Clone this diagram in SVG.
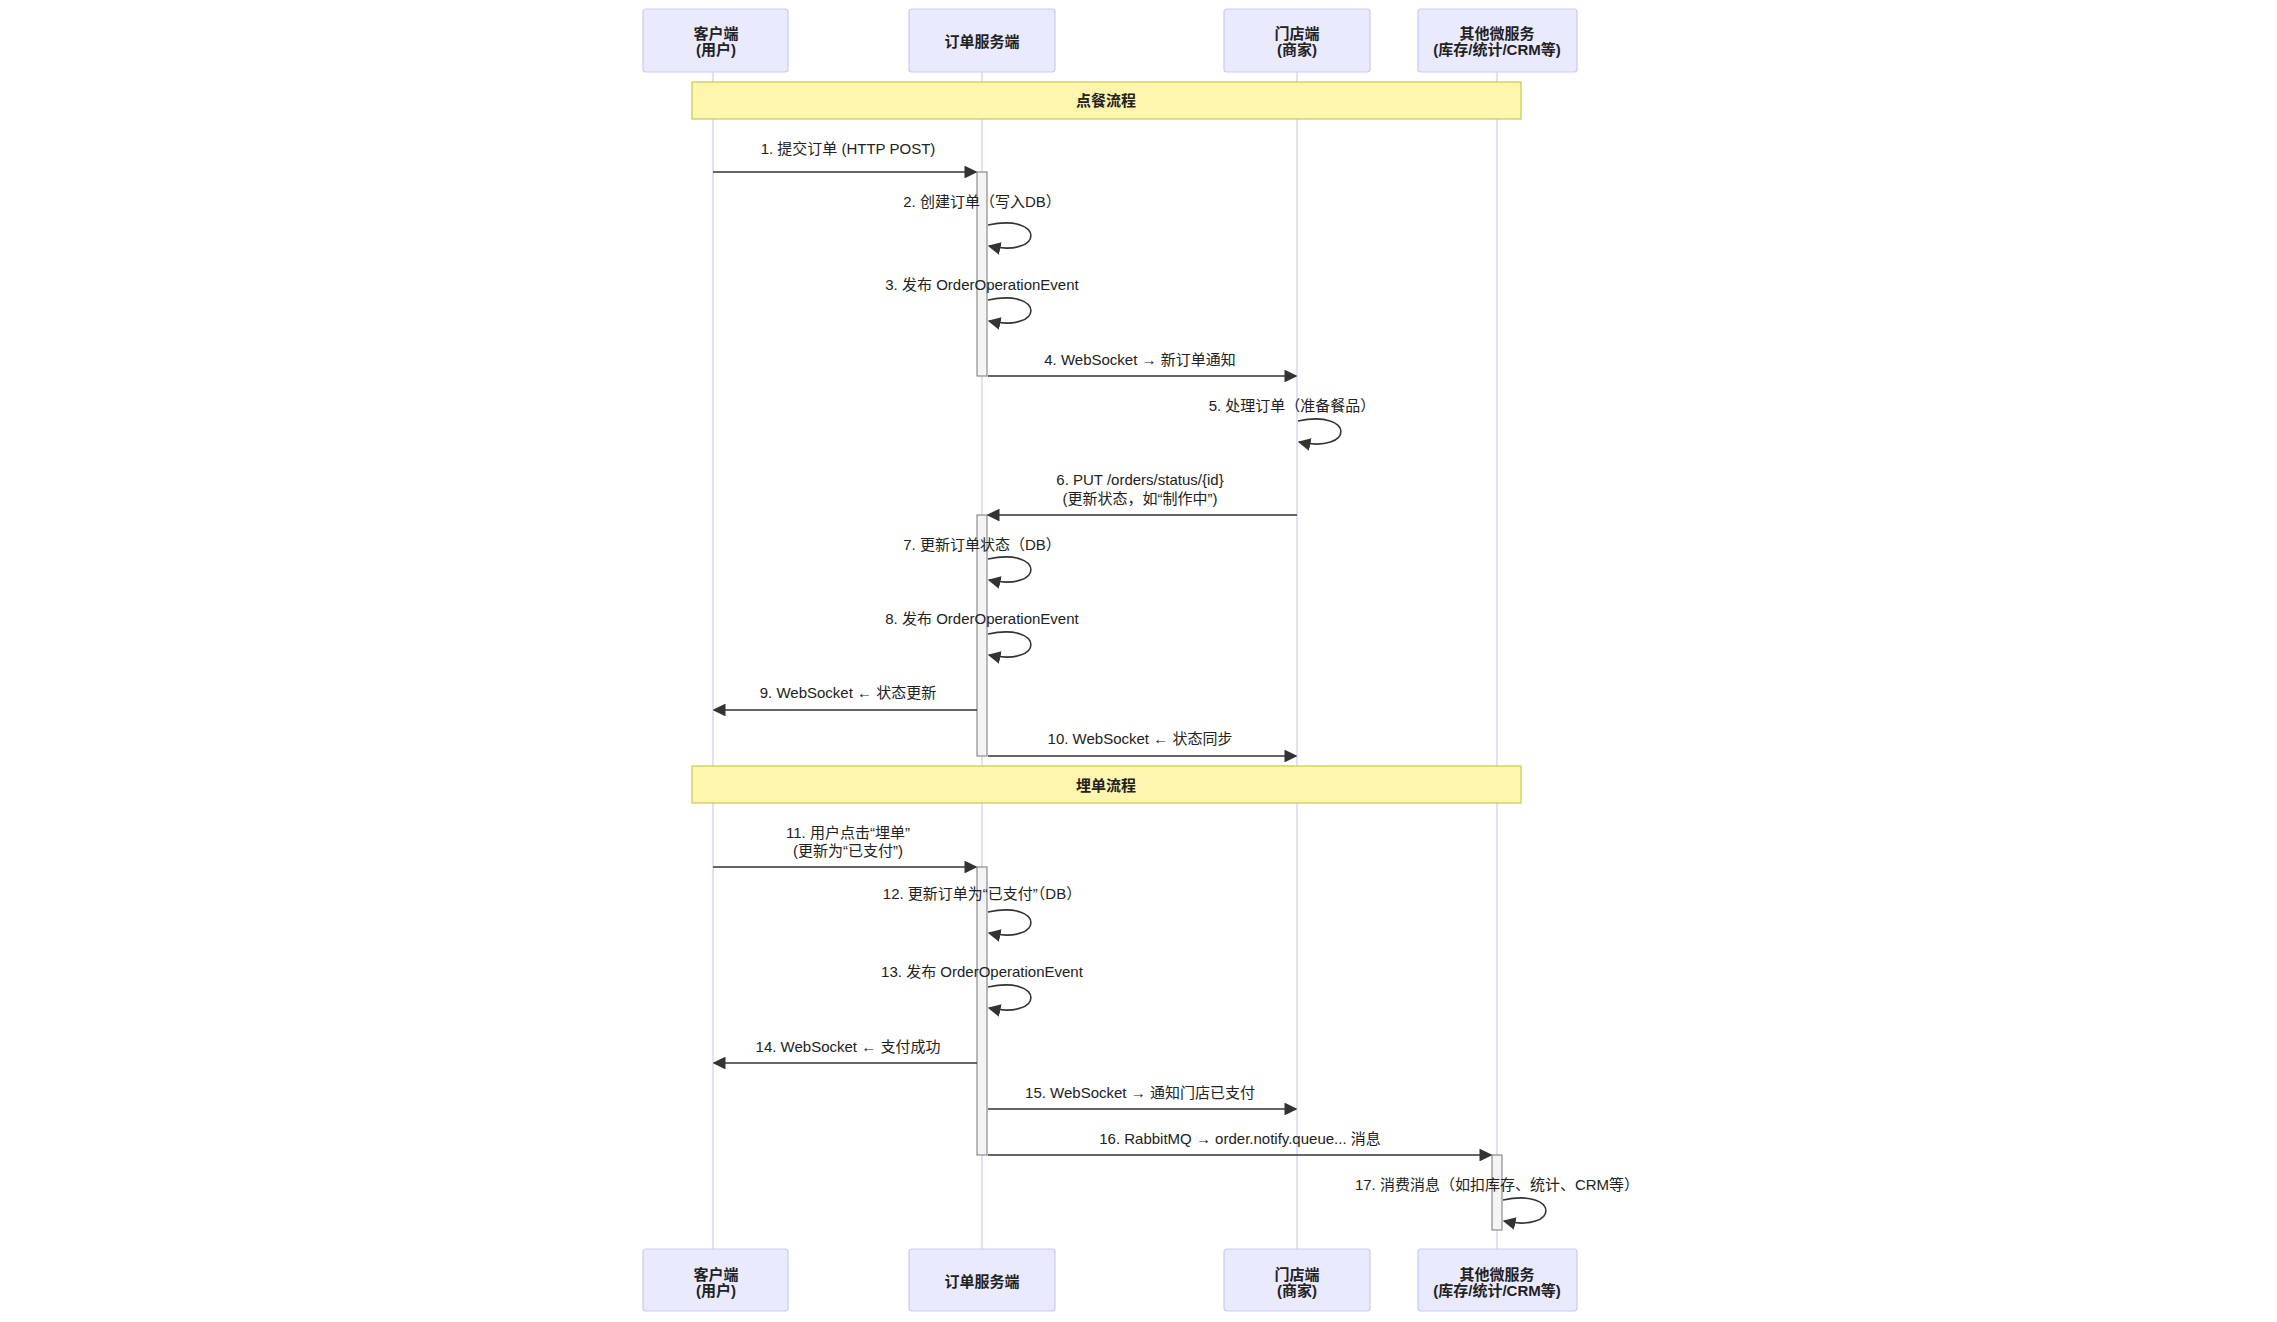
<svg xmlns="http://www.w3.org/2000/svg" width="2277" height="1322" viewBox="0 0 2277 1322">
<style>
text{font-family:"Liberation Sans","Noto Sans CJK SC",sans-serif;font-size:15px;fill:#222;text-anchor:middle;dominant-baseline:central}
.actor rect{fill:#eaeaff;stroke:#c9c9f5;stroke-width:1.2}
.actor text{font-weight:600}
.life{stroke:#cfcff2;stroke-width:1.3}
.note rect{fill:#fff5ad;stroke:#c8c850;stroke-width:1.2}
.note text{font-weight:600}
.act{fill:#f4f4f4;stroke:#777;stroke-width:1}
.msg{stroke:#333;stroke-width:1.6;fill:none;marker-end:url(#ah)}
</style>
<defs><marker id="ah" viewBox="0 0 10 10" refX="9" refY="5" markerWidth="8" markerHeight="8" orient="auto"><path d="M0,0 L10,5 L0,10 z" fill="#333"/></marker></defs>
<rect width="2277" height="1322" fill="#fff"/>
<g id="lifelines">
<line class="life" x1="713" y1="72" x2="713" y2="1249"/>
<line class="life" x1="982" y1="72" x2="982" y2="1249"/>
<line class="life" x1="1297" y1="72" x2="1297" y2="1249"/>
<line class="life" x1="1497" y1="72" x2="1497" y2="1249"/>
</g>
<g id="actor-client" class="actor"><rect x="643" y="9" width="145" height="63" rx="3"/><text x="716" y="33">客户端</text><text x="716" y="49">(用户)</text>
<rect x="643" y="1249" width="145" height="62" rx="3"/><text x="716" y="1274">客户端</text><text x="716" y="1290">(用户)</text></g>
<g id="actor-order" class="actor"><rect x="909" y="9" width="146" height="63" rx="3"/><text x="982" y="41">订单服务端</text>
<rect x="909" y="1249" width="146" height="62" rx="3"/><text x="982" y="1281">订单服务端</text></g>
<g id="actor-store" class="actor"><rect x="1224" y="9" width="146" height="63" rx="3"/><text x="1297" y="33">门店端</text><text x="1297" y="49">(商家)</text>
<rect x="1224" y="1249" width="146" height="62" rx="3"/><text x="1297" y="1274">门店端</text><text x="1297" y="1290">(商家)</text></g>
<g id="actor-other" class="actor"><rect x="1418" y="9" width="159" height="63" rx="3"/><text x="1497" y="33">其他微服务</text><text x="1497" y="49">(库存/统计/CRM等)</text>
<rect x="1418" y="1249" width="159" height="62" rx="3"/><text x="1497" y="1274">其他微服务</text><text x="1497" y="1290">(库存/统计/CRM等)</text></g>
<g id="note1" class="note"><rect x="692" y="82" width="829" height="37"/><text x="1106" y="100">点餐流程</text></g>
<g id="note2" class="note"><rect x="692" y="766" width="829" height="37"/><text x="1106" y="785">埋单流程</text></g>
<g id="activations">
<rect class="act" x="977" y="172" width="10" height="204"/>
<rect class="act" x="977" y="515" width="10" height="241"/>
<rect class="act" x="977" y="867" width="10" height="288"/>
<rect class="act" x="1492" y="1155" width="10" height="75"/>
</g>
<g id="connectors">
<path class="msg" d="M713,172 H976"/>
<path class="msg" d="M988,225 C1045,213 1045,258 989,246"/>
<path class="msg" d="M988,300 C1045,288 1045,333 989,321"/>
<path class="msg" d="M988,376 H1296"/>
<path class="msg" d="M1298,421 C1355,409 1355,454 1299,442"/>
<path class="msg" d="M1297,515 H988"/>
<path class="msg" d="M988,559 C1045,547 1045,592 989,580"/>
<path class="msg" d="M988,634 C1045,622 1045,667 989,655"/>
<path class="msg" d="M977,710 H714"/>
<path class="msg" d="M988,756 H1296"/>
<path class="msg" d="M713,867 H976"/>
<path class="msg" d="M988,912 C1045,900 1045,945 989,933"/>
<path class="msg" d="M988,987 C1045,975 1045,1020 989,1008"/>
<path class="msg" d="M977,1063 H714"/>
<path class="msg" d="M988,1109 H1296"/>
<path class="msg" d="M988,1155 H1491"/>
<path class="msg" d="M1503,1200 C1560,1188 1560,1233 1504,1221"/>
</g>
<g id="labels">
<text x="848" y="148">1. 提交订单 (HTTP POST)</text>
<text x="982" y="201">2. 创建订单（写入DB）</text>
<text x="982" y="284">3. 发布 OrderOperationEvent</text>
<text x="1140" y="359">4. WebSocket → 新订单通知</text>
<text x="1292" y="405">5. 处理订单（准备餐品）</text>
<text x="1140" y="479">6. PUT /orders/status/{id}</text>
<text x="1140" y="498">(更新状态，如“制作中”)</text>
<text x="982" y="544">7. 更新订单状态（DB）</text>
<text x="982" y="618">8. 发布 OrderOperationEvent</text>
<text x="848" y="692">9. WebSocket ← 状态更新</text>
<text x="1140" y="738">10. WebSocket ← 状态同步</text>
<text x="848" y="832">11. 用户点击“埋单”</text>
<text x="848" y="850">(更新为“已支付”)</text>
<text x="982" y="893">12. 更新订单为“已支付”（DB）</text>
<text x="982" y="971">13. 发布 OrderOperationEvent</text>
<text x="848" y="1046">14. WebSocket ← 支付成功</text>
<text x="1140" y="1092">15. WebSocket → 通知门店已支付</text>
<text x="1240" y="1138">16. RabbitMQ → order.notify.queue... 消息</text>
<text x="1497" y="1184">17. 消费消息（如扣库存、统计、CRM等）</text>
</g>
</svg>
